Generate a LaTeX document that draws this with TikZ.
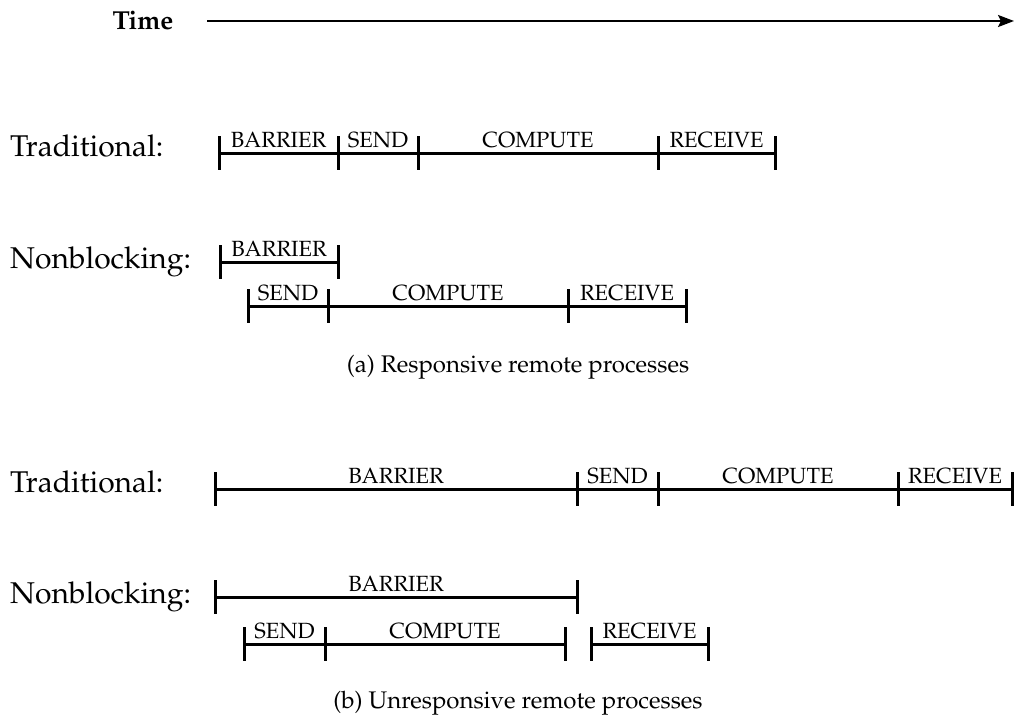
\documentclass[tikz,border=0pt]{standalone}
\usepackage[T1]{fontenc}
\usepackage{mathpazo}
\usetikzlibrary{arrows.meta}
\begin{document}
\begin{tikzpicture}[x=1pt,y=-1pt,
  tickbar/.style={draw=none,fill=black,rectangle,inner sep=0pt,
    minimum width=3pt,minimum height=34pt},
  seg/.style={line width=3pt},
  barlabel/.style={anchor=base,inner sep=0pt,yshift=6pt,
    font=\fontsize{22}{22}\selectfont},
  rowlabel/.style={anchor=base west,inner sep=0pt,
    font=\fontsize{30}{30}\selectfont},
  captionlabel/.style={anchor=base,inner sep=0pt,
    font=\fontsize{24}{24}\selectfont},
  timeaxis/.style={line width=2.2pt,-{Stealth[length=16pt,width=12pt,inset=3pt]}},
]
\useasboundingbox (0,0) rectangle (1017,717);

% time axis
\node[anchor=base,inner sep=0pt,font=\bfseries\fontsize{26}{26}\selectfont] (time) at (143,30) {Time};
\coordinate (tstart) at (207,21);
\coordinate (tend) at (1014,21);
\draw[timeaxis] (tstart) -- (tend);

% ---------- (a) responsive remote processes ----------
\node[rowlabel] (aTrad) at (10,156) {Traditional:};
\node[tickbar] (at0) at (219,153) {};
\node[tickbar] (at1) at (338,153) {};
\node[tickbar] (at2) at (418,153) {};
\node[tickbar] (at3) at (658,153) {};
\node[tickbar] (at4) at (775,153) {};
\draw[seg] (at0.center) -- node[barlabel] (atBar) {BARRIER} (at1.center);
\draw[seg] (at1.center) -- node[barlabel] (atSend) {SEND} (at2.center);
\draw[seg] (at2.center) -- node[barlabel] (atComp) {COMPUTE} (at3.center);
\draw[seg] (at3.center) -- node[barlabel] (atRecv) {RECEIVE} (at4.center);

\node[rowlabel] (aNonb) at (10,268) {Nonblocking:};
\node[tickbar] (ab0) at (220,262) {};
\node[tickbar] (ab1) at (338,262) {};
\draw[seg] (ab0.center) -- node[barlabel] (abBar) {BARRIER} (ab1.center);
\node[tickbar] (an0) at (248,306) {};
\node[tickbar] (an1) at (328,306) {};
\node[tickbar] (an2) at (568,306) {};
\node[tickbar] (an3) at (686,306) {};
\draw[seg] (an0.center) -- node[barlabel] (anSend) {SEND} (an1.center);
\draw[seg] (an1.center) -- node[barlabel] (anComp) {COMPUTE} (an2.center);
\draw[seg] (an2.center) -- node[barlabel] (anRecv) {RECEIVE} (an3.center);

\node[captionlabel] (capA) at (518,372) {(a) Responsive remote processes};

% ---------- (b) unresponsive remote processes ----------
\node[rowlabel] (bTrad) at (10,492) {Traditional:};
\node[tickbar] (bt0) at (215,489) {};
\node[tickbar] (bt1) at (577,489) {};
\node[tickbar] (bt2) at (658,489) {};
\node[tickbar] (bt3) at (898,489) {};
\node[tickbar] (bt4) at (1012,489) {};
\draw[seg] (bt0.center) -- node[barlabel] (btBar) {BARRIER} (bt1.center);
\draw[seg] (bt1.center) -- node[barlabel] (btSend) {SEND} (bt2.center);
\draw[seg] (bt2.center) -- node[barlabel] (btComp) {COMPUTE} (bt3.center);
\draw[seg] (bt3.center) -- node[barlabel] (btRecv) {RECEIVE} (bt4.center);

\node[rowlabel] (bNonb) at (10,603) {Nonblocking:};
\node[tickbar] (bb0) at (215,597) {};
\node[tickbar] (bb1) at (577,597) {};
\draw[seg] (bb0.center) -- node[barlabel] (bbBar) {BARRIER} (bb1.center);
\node[tickbar] (bn0) at (244,644) {};
\node[tickbar] (bn1) at (325,644) {};
\node[tickbar] (bn2) at (565,644) {};
\node[tickbar] (bn3) at (591,644) {};
\node[tickbar] (bn4) at (708,644) {};
\draw[seg] (bn0.center) -- node[barlabel] (bnSend) {SEND} (bn1.center);
\draw[seg] (bn1.center) -- node[barlabel] (bnComp) {COMPUTE} (bn2.center);
\draw[seg] (bn3.center) -- node[barlabel] (bnRecv) {RECEIVE} (bn4.center);

\node[captionlabel] (capB) at (518,708) {(b) Unresponsive remote processes};
\end{tikzpicture}
\end{document}
